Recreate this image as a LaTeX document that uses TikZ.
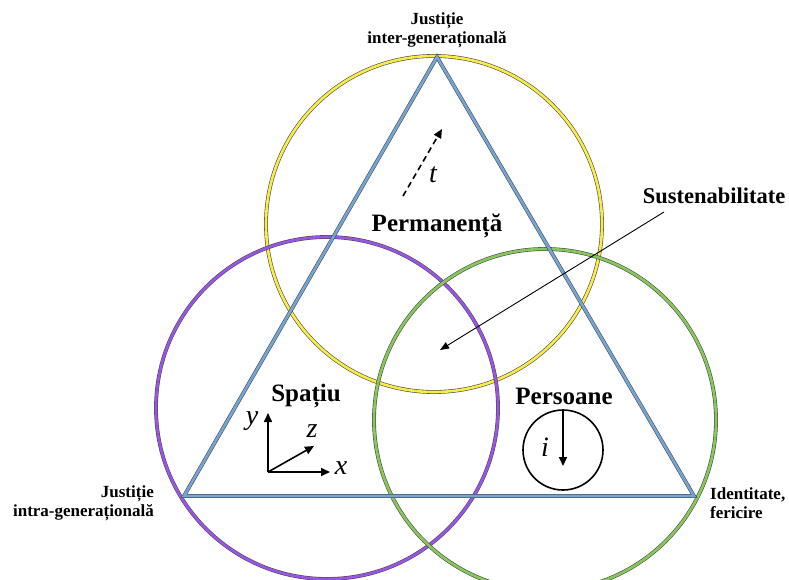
\documentclass[tikz,border=0pt]{standalone}
\usepackage{fontspec}
\setmainfont{Liberation Serif}
\usetikzlibrary{arrows.meta}
\definecolor{cyel}{RGB}{250,236,70}
\definecolor{cpur}{RGB}{155,85,230}
\definecolor{cgrn}{RGB}{135,200,90}
\definecolor{cblu}{RGB}{115,165,215}
\tikzset{
  ring/.style={draw=black!70, line width=0.6pt, double distance=2.6pt, double=#1},
  lbl/.style={font=\bfseries\fontsize{17}{19}\selectfont, align=center, inner sep=0pt},
  big/.style={font=\bfseries\fontsize{25}{28}\selectfont, inner sep=0pt},
  ital/.style={font=\itshape\fontsize{28}{30}\selectfont, inner sep=0pt},
  arr/.style={-{Triangle[length=9pt,width=8pt]}, line width=1.6pt},
}
\begin{document}
\begin{tikzpicture}[x=1pt,y=-1pt]
\useasboundingbox (0,0) rectangle (789,580);
% circles
\draw[ring=cyel] (434,224) circle (168);
\draw[ring=cpur] (327,408) circle (171);
\draw[ring=cgrn] (545,420) circle (171);
% triangle
\coordinate (A) at (437,57);
\coordinate (B) at (184,496);
\coordinate (C) at (694,496);
\draw[ring=cblu, line join=miter] (A) -- (B) -- (C) -- cycle;
% corner labels
\node[lbl] (top) at (437,30) {Justiție\\inter-generațională};
\node[lbl, align=right, anchor=east] (left) at (154,503) {Justiție\\intra-generațională};
\node[lbl, align=left, anchor=west] (right) at (710,503) {Identitate,\\fericire};
% sustenabilitate
\node[font=\bfseries\fontsize{22.5}{25}\selectfont, inner sep=0pt] (sus) at (714,196) {Sustenabilitate};
\coordinate (susA) at (664,212);
\coordinate (susB) at (440,350);
\draw[-{Triangle[length=9pt,width=7pt]}, line width=0.9pt] (susA) -- (susB);
% permanenta
\node[big] (perm) at (437,226) {Permanență};
\coordinate (t0) at (403,196);
\coordinate (t1) at (442,129);
\draw[arr, dash pattern=on 6pt off 4pt] (t0) -- (t1);
\node[ital] (t) at (433,175) {t};
% spatiu
\node[big] (sp) at (306,396) {Spațiu};
\coordinate (O) at (268,472);
\coordinate (Y) at (268,413);
\coordinate (X) at (330,472);
\coordinate (Z) at (314,446);
\draw[arr] (O) -- (Y);
\draw[arr] (O) -- (X);
\draw[arr] (O) -- (Z);
\node[ital] (ly) at (252,421) {y};
\node[ital] (lx) at (341,468) {x};
\node[ital] (lz) at (312,431) {z};
% persoane
\node[big] (pers) at (564,396) {Persoane};
\node[draw, circle, line width=1.6pt, minimum size=80pt, inner sep=0pt] (ic) at (563,450) {};
\coordinate (i1) at (563,466);
\draw[arr] (ic.north) -- (i1);
\node[ital] (li) at (545,447) {i};
\end{tikzpicture}
\end{document}
